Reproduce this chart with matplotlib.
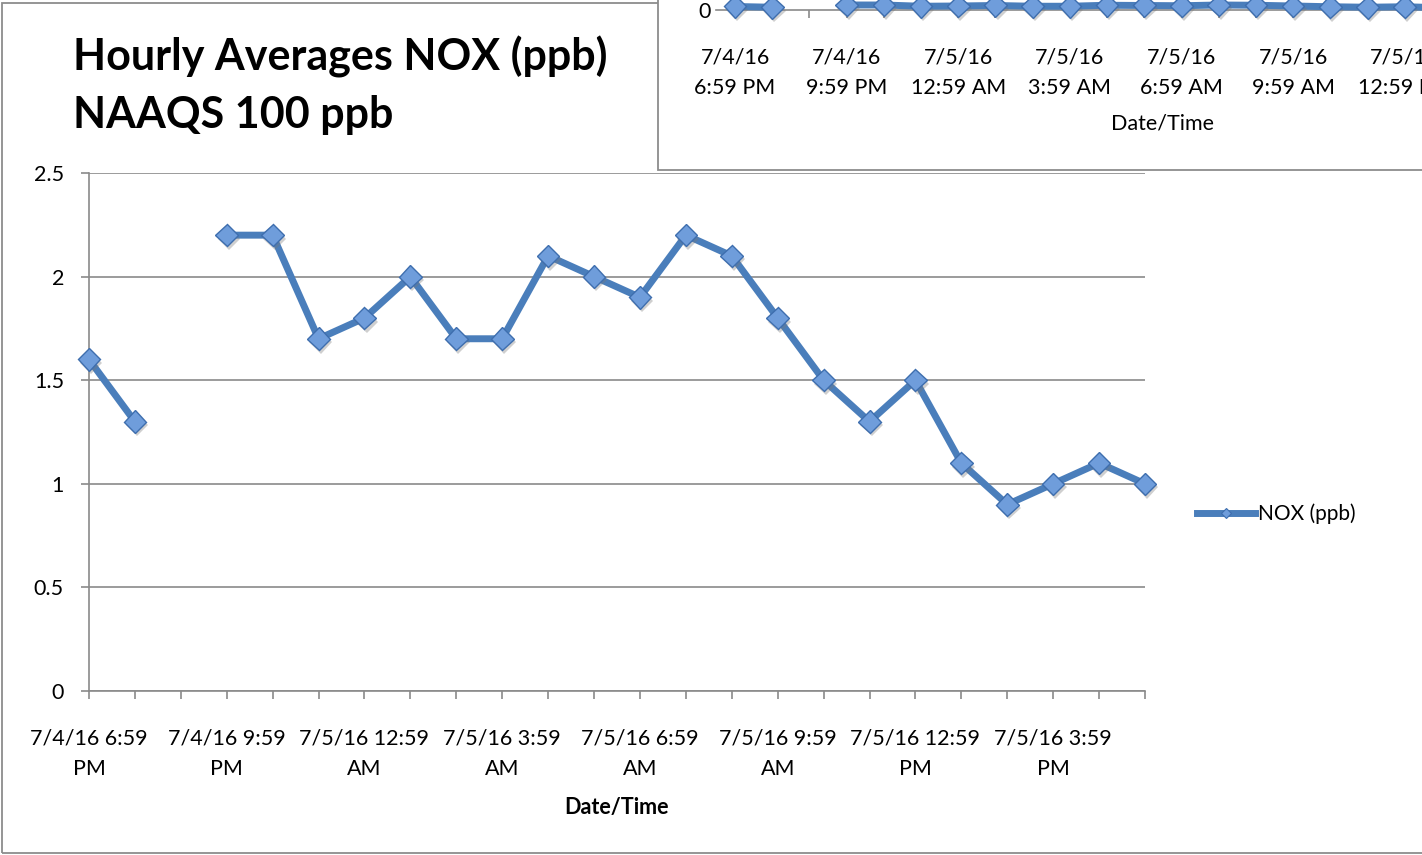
import numpy as np
import matplotlib
matplotlib.use("Agg")
import matplotlib.pyplot as plt
import matplotlib.patheffects as pe
from matplotlib.lines import Line2D
from matplotlib.patches import Rectangle

plt.rcParams['font.family'] = ['Lato', 'DejaVu Sans']

# Datos: promedios horarios NOX (ppb), 7/4/16 6:59 PM -> 7/5/16 5:59 PM
nox = [1.6, 1.3, np.nan, 2.2, 2.2, 1.7, 1.8, 2.0, 1.7, 1.7, 2.1, 2.0,
       1.9, 2.2, 2.1, 1.8, 1.5, 1.3, 1.5, 1.1, 0.9, 1.0, 1.1, 1.0]
label_idx = [0, 3, 6, 9, 12, 15, 18, 21]
main_labels = ["7/4/16 6:59\nPM", "7/4/16 9:59\nPM", "7/5/16 12:59\nAM",
               "7/5/16 3:59\nAM", "7/5/16 6:59\nAM", "7/5/16 9:59\nAM",
               "7/5/16 12:59\nPM", "7/5/16 3:59\nPM"]
inset_labels = ["7/4/16\n6:59 PM", "7/4/16\n9:59 PM", "7/5/16\n12:59 AM",
                "7/5/16\n3:59 AM", "7/5/16\n6:59 AM", "7/5/16\n9:59 AM",
                "7/5/16\n12:59 PM", "7/5/16\n3:59 PM"]
y_ticks = [0, 0.5, 1, 1.5, 2, 2.5]

W, H = 1422, 855
LINE = '#4A7EBB'
FACE = '#6F9DDB'
EDGE = '#3E6EAE'
GRID = '#8A8A8A'
FS = 15.5


def fx(px):
    return px / W


def fy(py):
    return 1 - py / H


def dibujar_serie(ax, x, y, ms):
    ax.plot(x, y, color=LINE, lw=5, solid_capstyle='butt', zorder=3, clip_on=False)
    ax.plot(x, y, ls='none', marker='D', ms=ms, mfc=FACE, mec=EDGE, mew=1,
            zorder=4, clip_on=False,
            path_effects=[pe.SimplePatchShadow(offset=(1.5, -2.5), shadow_rgbFace='#777777', alpha=0.35),
                          pe.Normal()])


fig = plt.figure(figsize=(W / 100, H / 100), dpi=100)
x = np.arange(len(nox))

# Marco del grafico principal
fig.patches.append(Rectangle((fx(2), fy(853)), 1.2, fy(3) - fy(853), transform=fig.transFigure,
                             fill=False, edgecolor='#8C8C8C', lw=1.3, zorder=0.5))

# Grafico principal
ax = fig.add_axes([fx(89), fy(691), fx(1145) - fx(89), fy(173) - fy(691)])
dibujar_serie(ax, x, nox, 11.5)
ax.set_xlim(0, 23)
ax.set_ylim(0, 2.5)
ax.set_yticks(y_ticks)
ax.set_yticklabels(["0", "0.5", "1", "1.5", "2", "2.5"])
ax.set_xticks(x)
ax.set_xticklabels([main_labels[label_idx.index(i)] if i in label_idx else "" for i in x],
                   linespacing=1.65)
ax.yaxis.grid(True, color=GRID, lw=1.2)
ax.set_axisbelow(True)
for s in ['top', 'right']:
    ax.spines[s].set_visible(False)
for s in ['left', 'bottom']:
    ax.spines[s].set_color(GRID)
    ax.spines[s].set_linewidth(1.2)
ax.tick_params(axis='both', colors=GRID, labelcolor='black', labelsize=FS, length=6, width=1.2)
ax.tick_params(axis='y', pad=12)
ax.tick_params(axis='x', pad=21)
ax.set_xlabel("Date/Time", fontsize=FS, fontweight='bold', labelpad=13)

legend_handle = Line2D([], [], color=LINE, lw=5, marker='D', ms=5, mfc=FACE, mec=EDGE, mew=0.8)
fig.legend([legend_handle], ["NOX (ppb)"], loc='center left', bbox_to_anchor=(fx(1197), fy(514)),
           frameon=False, fontsize=15, handlelength=2.8, handletextpad=0.15, borderpad=0,
           borderaxespad=0)

fig.text(fx(73), fy(70), "Hourly Averages NOX (ppb)", fontsize=31, fontweight='bold', va='baseline')
fig.text(fx(73), fy(128), "NAAQS 100 ppb", fontsize=31, fontweight='bold', va='baseline')

# Grafico superpuesto (esquina superior derecha)
fig.patches.append(Rectangle((fx(658), fy(170)), 1, 0.3, transform=fig.transFigure,
                             facecolor='white', edgecolor='#8C8C8C', lw=1.3, zorder=5))
ax2 = fig.add_axes([fx(716.4), fy(10.5), fx(893), 300 / H], zorder=6)
ax2.patch.set_visible(False)
dibujar_serie(ax2, x, nox, 11.5)
ax2.set_xlim(-0.5, 23.5)
ax2.set_ylim(0, 120)
ax2.set_yticks([0])
ax2.set_xticks(x)
ax2.set_xticklabels([inset_labels[label_idx.index(i)] if i in label_idx else "" for i in x],
                    linespacing=1.65)
for s in ['top', 'right', 'left']:
    ax2.spines[s].set_visible(False)
ax2.spines['bottom'].set_color(GRID)
ax2.spines['bottom'].set_linewidth(1.2)
ax2.tick_params(axis='x', colors=GRID, labelcolor='black', labelsize=FS, length=6, width=1.2, pad=21)
ax2.tick_params(axis='y', length=0, labelsize=FS, pad=4)
ax2.set_xlabel("Date/Time", fontsize=FS, labelpad=11)

fig.savefig("out.png", dpi=100)
